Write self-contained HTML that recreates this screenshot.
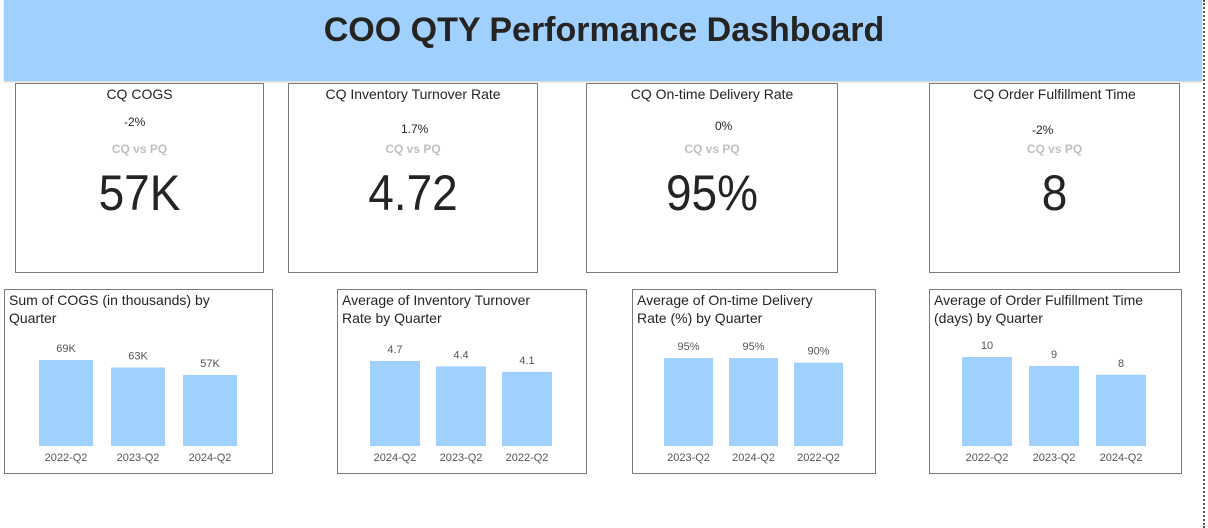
<!DOCTYPE html>
<html><head><meta charset="utf-8"><style>
body{margin:0;width:1208px;height:528px;background:#fff;position:relative;overflow:hidden;font-family:"Liberation Sans",sans-serif;color:#252423}
.abs{position:absolute}
#hdr{left:4px;top:0;width:1198px;height:81px;background:#a0d0fd;box-shadow:0 1px 2px #ccc}
#title{left:0;width:1208px;top:11px;text-align:center;font:bold 34px "Liberation Sans",sans-serif;color:#252423}
#dots{left:1203px;top:0;height:528px;border-left:2px dotted #555}
.card{border:1px solid #7a7a7a;background:#fff;box-sizing:border-box}
.ct{position:absolute;left:0;right:0;top:2px;text-align:center;font-size:14px}
.cd{position:absolute;font-size:12px}
.cv{position:absolute;left:0;right:0;text-align:center;font-size:12px;color:#c0c0c0;font-weight:bold}
.big{position:absolute;left:0;right:0;top:80px;text-align:center;font-size:50px;transform:scaleX(0.92)}
.chart{border:1px solid #7a7a7a;box-sizing:border-box;background:#fff}
.chart .t{position:absolute;left:4px;top:1px;font-size:14px;line-height:18px;white-space:nowrap}
svg text{font-family:"Liberation Sans",sans-serif;font-size:11px;fill:#555}
</style></head><body>
<div class="abs" id="hdr"></div>
<div class="abs" id="title">COO QTY Performance Dashboard</div>
<div class="abs" id="dots"></div>

<div class="abs card" style="left:15px;top:83px;width:249px;height:190px">
<div class="ct">CQ COGS</div>
<div class="cd" style="left:108px;top:31px">-2%</div>
<div class="cv" style="top:58px">CQ vs PQ</div>
<div class="big">57K</div></div>

<div class="abs card" style="left:288px;top:83px;width:250px;height:190px">
<div class="ct">CQ Inventory Turnover Rate</div>
<div class="cd" style="left:112px;top:38px">1.7%</div>
<div class="cv" style="top:58px">CQ vs PQ</div>
<div class="big">4.72</div></div>

<div class="abs card" style="left:586px;top:83px;width:252px;height:190px">
<div class="ct">CQ On-time Delivery Rate</div>
<div class="cd" style="left:128px;top:35px">0%</div>
<div class="cv" style="top:58px">CQ vs PQ</div>
<div class="big">95%</div></div>

<div class="abs card" style="left:929px;top:83px;width:251px;height:190px">
<div class="ct">CQ Order Fulfillment Time</div>
<div class="cd" style="left:102px;top:39px">-2%</div>
<div class="cv" style="top:58px">CQ vs PQ</div>
<div class="big">8</div></div>

<div class="abs chart" style="left:4px;top:289px;width:269px;height:185px"><div class="t">Sum of COGS (in thousands) by<br>Quarter</div></div>
<div class="abs chart" style="left:337px;top:289px;width:250px;height:185px"><div class="t">Average of Inventory Turnover<br>Rate by Quarter</div></div>
<div class="abs chart" style="left:632px;top:289px;width:244px;height:185px"><div class="t">Average of On-time Delivery<br>Rate (%) by Quarter</div></div>
<div class="abs chart" style="left:929px;top:289px;width:253px;height:185px"><div class="t">Average of Order Fulfillment Time<br>(days) by Quarter</div></div>

<svg class="abs" style="left:0;top:0" width="1208" height="528" id="bars"></svg>
<script>
const cogsCats=["2022-Q2","2023-Q2","2024-Q2"];
const cogsVals=[69,63,57];
const cogsLabels=["69K","63K","57K"];
const invCats=["2024-Q2","2023-Q2","2022-Q2"];
const invVals=[4.7,4.4,4.1];
const invLabels=["4.7","4.4","4.1"];
const otdCats=["2023-Q2","2024-Q2","2022-Q2"];
const otdVals=[95,95,90];
const otdLabels=["95%","95%","90%"];
const oftCats=["2022-Q2","2023-Q2","2024-Q2"];
const oftVals=[10,9,8];
const oftLabels=["10","9","8"];
const NS="http://www.w3.org/2000/svg";
const svg=document.getElementById('bars');
function chart(name,cats,vals,labels,x0,step,bw,maxV,maxH){
  const base=446;
  const y=v=>base-v/maxV*maxH;
  cats.forEach((c,i)=>{
    const x=x0+i*step;
    const r=document.createElementNS(NS,'rect');
    r.setAttribute('x',x);r.setAttribute('y',y(vals[i]));
    r.setAttribute('width',bw);r.setAttribute('height',base-y(vals[i]));
    r.setAttribute('fill','#a0d0fd');
    
    
    svg.appendChild(r);
    const t=document.createElementNS(NS,'text');
    t.setAttribute('x',x+bw/2);t.setAttribute('y',y(vals[i])-8);
    t.setAttribute('text-anchor','middle');t.textContent=labels[i];
    
    
    svg.appendChild(t);
    const l=document.createElementNS(NS,'text');
    l.setAttribute('x',x+bw/2);l.setAttribute('y',461);
    l.setAttribute('text-anchor','middle');l.textContent=c;
    
    
    svg.appendChild(l);
  });
}
chart('cogs',cogsCats,cogsVals,cogsLabels,39,72,54,69,86);
chart('inventory',invCats,invVals,invLabels,370,66,50,4.7,85);
chart('ontime',otdCats,otdVals,otdLabels,664,65,49,95,88);
chart('fulfillment',oftCats,oftVals,oftLabels,962,67,50,10,89);
</script>
</body></html>
